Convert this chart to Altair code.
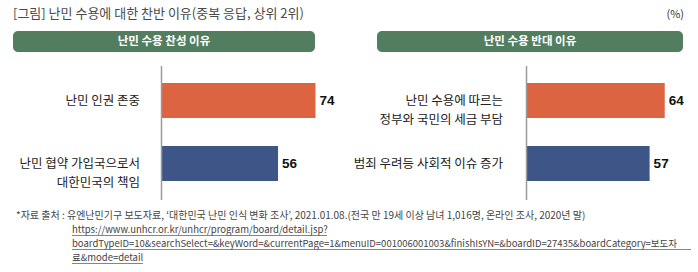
import altair as alt
import pandas as pd

# ---------------- data ----------------
title_text = "[그림] 난민 수용에 대한 찬반 이유(중복 응답, 상위 2위)"
unit_text = "(%)"
panel_titles = ["난민 수용 찬성 이유", "난민 수용 반대 이유"]

left_cats = ["난민 인권 존중", "난민 협약 가입국으로서\n대한민국의 책임"]
left_vals = [74, 56]

right_cats = ["난민 수용에 따르는\n정부와 국민의 세금 부담", "범죄 우려등 사회적 이슈 증가"]
right_vals = [64, 57]

bar_colors = ["#dc6441", "#3e5687"]

source_first = "*자료 출처 : 유엔난민기구 보도자료,  ‘대한민국 난민 인식 변화 조사’, 2021.01.08.(전국 만 19세 이상 남녀 1,016명, 온라인 조사, 2020년 말)"
source_urls = [
    "https://www.unhcr.or.kr/unhcr/program/board/detail.jsp?",
    "boardTypeID=10&searchSelect=&keyWord=&currentPage=1&menuID=001006001003&finishIsYN=&boardID=27435&boardCategory=보도자",
    "료&mode=detail",
]

KFONT = "Noto Sans CJK KR"
one = pd.DataFrame({"k": [0]})


def panel(cats, vals, x_range, label_x):
    df = pd.DataFrame({"cat": cats, "val": vals, "color": bar_colors})
    yscale = alt.Scale(domain=cats, range=[69, 195], paddingInner=0.4444, paddingOuter=0.2222)
    xscale = alt.Scale(domain=[0, 100], range=x_range, nice=False, zero=True)
    y = alt.Y("cat:N", sort=cats, scale=yscale, axis=None)
    x = alt.X("val:Q", scale=xscale, axis=None)
    base = alt.Chart(df)
    bars = base.mark_bar().encode(
        x=x, y=y, color=alt.Color("color:N", scale=None, legend=None)
    )
    values = base.mark_text(
        align="left", baseline="middle", dx=4, fontSize=13.5, fontWeight="bold",
        font="Liberation Sans", color="#111111"
    ).encode(x=x, y=y, text="val:Q")
    labels = base.mark_text(
        align="right", baseline="middle", lineBreak="\n", lineHeight=19.5,
        fontSize=12.5, font=KFONT, color="#222222"
    ).encode(x=alt.value(label_x), y=y, text="cat:N")
    return alt.layer(bars, values, labels)


left = panel(left_cats, left_vals, [161.5, 161.5 + 208.1], 140)
right = panel(right_cats, right_vals, [526.5, 526.5 + 216], 503)

decor = []
# title and unit
decor.append(alt.Chart(one).mark_text(align="left", baseline="middle", fontSize=13, font=KFONT, color="#4a4a4a")
             .encode(x=alt.value(13), y=alt.value(14), text=alt.value(title_text)))
decor.append(alt.Chart(one).mark_text(align="right", baseline="middle", fontSize=11, font=KFONT, color="#333333")
             .encode(x=alt.value(684), y=alt.value(15), text=alt.value(unit_text)))
# header boxes
for (x0, x1), t in zip([(13, 315), (377, 683)], panel_titles):
    decor.append(alt.Chart(one).mark_rect(cornerRadius=5, color="#527e5f")
                 .encode(x=alt.value(x0), x2=alt.value(x1), y=alt.value(31), y2=alt.value(52)))
    decor.append(alt.Chart(one).mark_text(align="center", baseline="middle", fontSize=11.5, fontWeight="bold",
                                          font=KFONT, color="white")
                 .encode(x=alt.value((x0 + x1) / 2), y=alt.value(41.5), text=alt.value(t)))
# axis lines
for ax in [161.5, 526.5]:
    decor.append(alt.Chart(one).mark_rule(color="#9a9a9a", strokeWidth=1.5)
                 .encode(x=alt.value(ax), y=alt.value(66), y2=alt.value(200)))
# footer
decor.append(alt.Chart(one).mark_text(align="left", baseline="middle", fontSize=10, font=KFONT, color="#444444")
             .encode(x=alt.value(16), y=alt.value(215.5), text=alt.value(source_first)))
for yy, t, xe in zip([230, 244, 258], source_urls, [327, 691, 143]):
    decor.append(alt.Chart(one).mark_text(align="left", baseline="middle", fontSize=9.5, font=KFONT, color="#444444")
                 .encode(x=alt.value(72), y=alt.value(yy), text=alt.value(t)))
    decor.append(alt.Chart(one).mark_rule(color="#666666", strokeWidth=0.8)
                 .encode(x=alt.value(72), x2=alt.value(xe), y=alt.value(yy + 5.5)))

chart = alt.layer(left, right, *decor).resolve_scale(
    x="independent", y="independent", color="independent"
).properties(
    width=698, height=272, autosize=alt.AutoSizeParams(type="none"), padding=0,
    background="white"
).configure_view(stroke=None)

chart.save("out.html", embed_options={"renderer": "svg", "actions": False})
